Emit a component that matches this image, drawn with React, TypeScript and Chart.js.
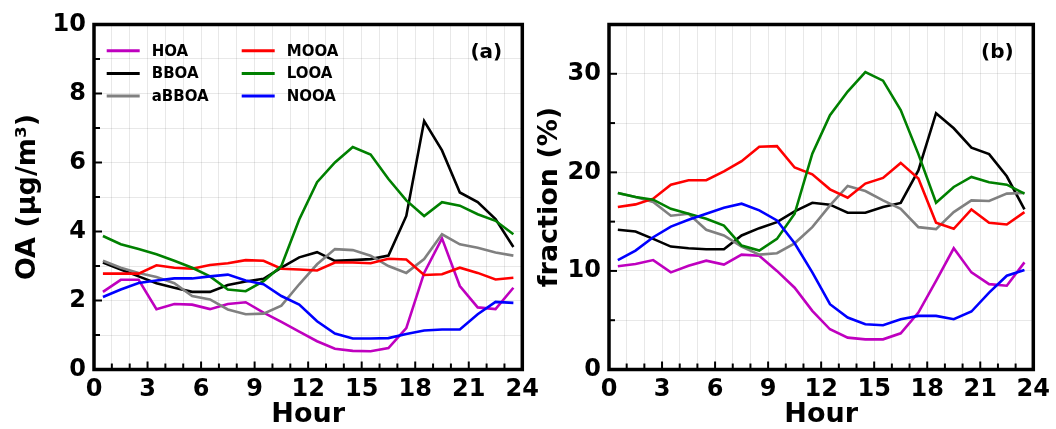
import React, { useEffect, useRef } from "react";
import { Chart, registerables } from "chart.js";

Chart.register(...registerables);

// Hour of day (bin centres)
const hours = [0.5, 1.5, 2.5, 3.5, 4.5, 5.5, 6.5, 7.5, 8.5, 9.5, 10.5, 11.5, 12.5, 13.5, 14.5, 15.5, 16.5, 17.5, 18.5, 19.5, 20.5, 21.5, 22.5, 23.5];

const factorNames = ["HOA", "BBOA", "aBBOA", "MOOA", "LOOA", "NOOA"];
const factorColors = ["#bf00bf", "#000000", "#808080", "#ff0000", "#008000", "#0000ff"];

// (a) mass concentrations, µg/m³
const hoaMass = [2.25, 2.6, 2.6, 1.75, 1.9, 1.88, 1.75, 1.9, 1.95, 1.65, 1.38, 1.1, 0.82, 0.6, 0.54, 0.53, 0.62, 1.2, 2.8, 3.8, 2.42, 1.8, 1.75, 2.37];
const bboaMass = [3.1, 2.9, 2.7, 2.5, 2.37, 2.25, 2.25, 2.45, 2.55, 2.63, 2.95, 3.25, 3.4, 3.15, 3.17, 3.2, 3.3, 4.45, 7.2, 6.35, 5.13, 4.85, 4.36, 3.55];
const abboaMass = [3.15, 2.95, 2.8, 2.68, 2.5, 2.13, 2.03, 1.74, 1.6, 1.62, 1.85, 2.47, 3.05, 3.49, 3.46, 3.3, 3.0, 2.8, 3.2, 3.92, 3.63, 3.53, 3.39, 3.3];
const mooaMass = [2.78, 2.78, 2.78, 3.02, 2.95, 2.92, 3.03, 3.08, 3.17, 3.15, 2.92, 2.9, 2.87, 3.1, 3.1, 3.08, 3.21, 3.19, 2.74, 2.76, 2.95, 2.8, 2.61, 2.66];
const looaMass = [3.87, 3.63, 3.49, 3.34, 3.15, 2.95, 2.7, 2.32, 2.27, 2.56, 3.0, 4.35, 5.43, 6.0, 6.45, 6.23, 5.52, 4.9, 4.45, 4.85, 4.75, 4.5, 4.31, 3.92];
const nooaMass = [2.1, 2.32, 2.51, 2.58, 2.64, 2.64, 2.7, 2.75, 2.58, 2.47, 2.13, 1.88, 1.4, 1.04, 0.9, 0.9, 0.91, 1.03, 1.13, 1.16, 1.16, 1.6, 1.96, 1.93];

// (b) fractions of total OA, %
const hoaFrac = [10.47, 10.7, 11.1, 9.85, 10.53, 11.04, 10.64, 11.65, 11.55, 10.0, 8.3, 5.95, 4.08, 3.23, 3.06, 3.06, 3.67, 5.78, 9.0, 12.3, 9.85, 8.66, 8.5, 10.87];
const bboaFrac = [14.17, 14.0, 13.25, 12.47, 12.3, 12.2, 12.2, 13.6, 14.34, 14.95, 16.04, 16.92, 16.72, 15.9, 15.9, 16.48, 16.9, 20.2, 26.0, 24.47, 22.5, 21.85, 19.6, 16.24];
const abboaFrac = [17.9, 17.5, 17.0, 15.6, 15.8, 14.17, 13.6, 12.47, 11.65, 11.8, 12.8, 14.44, 16.65, 18.62, 18.1, 17.16, 16.3, 14.44, 14.24, 15.97, 17.16, 17.1, 17.84, 17.9];
const mooaFrac = [16.48, 16.75, 17.33, 18.75, 19.2, 19.2, 20.1, 21.13, 22.6, 22.66, 20.49, 19.8, 18.28, 17.43, 18.86, 19.44, 20.96, 19.37, 14.88, 14.27, 16.24, 14.88, 14.71, 15.97];
const looaFrac = [17.9, 17.5, 17.23, 16.3, 15.8, 15.3, 14.6, 12.57, 12.06, 13.25, 15.8, 21.9, 25.8, 28.2, 30.17, 29.3, 26.33, 21.85, 16.92, 18.52, 19.54, 19.0, 18.75, 17.84];
const nooaFrac = [11.1, 12.06, 13.42, 14.5, 15.19, 15.8, 16.41, 16.82, 16.14, 15.12, 12.8, 9.85, 6.62, 5.27, 4.59, 4.49, 5.1, 5.44, 5.44, 5.1, 5.88, 7.8, 9.51, 10.09];

const FONT = "'DejaVu Sans', 'Liberation Sans', sans-serif";

type PanelSpec = {
  series: number[][];
  yMax: number;
  yStep: number;
  yLabelEvery: number;
  yTitle: string;
  tag: string;
  legend: boolean;
  width: number;
  axisWidth: number;
  rightPad: number;
  titleOffset: number;
};

// Frame, inward ticks, panel tag and the two-column legend
const decorPlugin = {
  id: "decor",
  afterDraw(chart: any, _args: any, opts: any) {
    const { ctx, chartArea: a, scales } = chart;
    const xs = scales.x;
    const ys = scales.y;
    ctx.save();
    ctx.strokeStyle = "#000";
    ctx.lineWidth = 2;
    ctx.lineCap = "butt";
    xs.ticks.forEach((t: any) => {
      const px = xs.getPixelForValue(t.value);
      const major = t.value % 3 === 0;
      ctx.beginPath();
      ctx.moveTo(px, a.bottom);
      ctx.lineTo(px, a.bottom - (major ? 8 : 6));
      ctx.stroke();
    });
    ys.ticks.forEach((t: any) => {
      const py = ys.getPixelForValue(t.value);
      const major = t.value % opts.yLabelEvery === 0;
      ctx.beginPath();
      ctx.moveTo(a.left, py);
      ctx.lineTo(a.left + (major ? 8 : 6), py);
      ctx.stroke();
    });
    ctx.lineWidth = 3.5;
    ctx.strokeRect(a.left, a.top, a.right - a.left, a.bottom - a.top);

    ctx.fillStyle = "#000";
    ctx.font = `bold 20px ${FONT}`;
    ctx.textAlign = "center";
    ctx.textBaseline = "middle";
    ctx.fillText(opts.tag, a.right - 36, a.top + 28);

    if (opts.legend) {
      const ds = chart.data.datasets;
      ctx.font = `bold 15px ${FONT}`;
      ctx.textAlign = "left";
      ds.forEach((d: any, i: number) => {
        const col = Math.floor(i / 3);
        const row = i % 3;
        const x0 = a.left + 12.7 + col * 135;
        const y0 = a.top + 26.2 + row * 22.7;
        ctx.strokeStyle = d.borderColor;
        ctx.lineWidth = 3;
        ctx.beginPath();
        ctx.moveTo(x0, y0);
        ctx.lineTo(x0 + 33, y0);
        ctx.stroke();
        ctx.fillStyle = "#000";
        ctx.fillText(d.label, x0 + 45, y0 + 1);
      });
    }
    ctx.restore();
  },
};

function Panel({ spec, left }: { spec: PanelSpec; left: number }) {
  const ref = useRef<HTMLCanvasElement | null>(null);

  useEffect(() => {
    if (!ref.current) return;
    const tickFont = { family: FONT, size: 24, weight: "bold" as const };
    const titleFont = { family: FONT, size: 27, weight: "bold" as const, lineHeight: 1 };
    const gridColor = "rgba(0,0,0,0.09)";

    const chart = new Chart(ref.current, {
      type: "line",
      data: {
        datasets: spec.series.map((vals, i) => ({
          label: factorNames[i],
          data: hours.map((h, j) => ({ x: h, y: vals[j] })),
          borderColor: factorColors[i],
          backgroundColor: factorColors[i],
          borderWidth: 2.6,
          pointRadius: 0,
          tension: 0,
          fill: false,
          order: factorNames.length - 1 - i,
        })),
      },
      options: {
        animation: false,
        responsive: false,
        devicePixelRatio: 1,
        layout: { padding: { left: 0, top: 24.5, right: spec.rightPad, bottom: 0 } },
        plugins: {
          legend: { display: false },
          tooltip: { enabled: false },
          decor: { tag: spec.tag, legend: spec.legend, yLabelEvery: spec.yLabelEvery },
        } as any,
        scales: {
          x: {
            type: "linear",
            min: 0,
            max: 24,
            border: { display: false },
            grid: { color: gridColor, lineWidth: 1, drawTicks: false, tickLength: 0 },
            ticks: {
              stepSize: 1,
              autoSkip: false,
              maxRotation: 0,
              padding: 6,
              color: "#000",
              font: tickFont,
              callback: (v: any) => (Number(v) % 3 === 0 ? String(v) : ""),
            },
            title: { display: true, text: "Hour", color: "#000", font: titleFont, padding: { top: 0, bottom: 0.5 } },
            afterFit: (s: any) => {
              s.height = 59.5;
            },
          },
          y: {
            type: "linear",
            min: 0,
            max: spec.yMax,
            border: { display: false },
            grid: { color: gridColor, lineWidth: 1, drawTicks: false, tickLength: 0 },
            ticks: {
              stepSize: spec.yStep,
              autoSkip: false,
              padding: 8,
              color: "#000",
              font: tickFont,
              callback: (v: any) => (Number(v) % spec.yLabelEvery === 0 ? String(v) : ""),
            },
            title: { display: true, text: spec.yTitle, color: "#000", font: titleFont, padding: { top: spec.titleOffset, bottom: 0 } },
            afterFit: (s: any) => {
              s.width = spec.axisWidth;
            },
          },
        },
      } as any,
      plugins: [decorPlugin],
    });
    return () => chart.destroy();
  }, [spec]);

  return (
    <canvas
      ref={ref}
      width={spec.width}
      height={429}
      style={{ position: "absolute", left, top: 0, width: spec.width, height: 429 }}
    />
  );
}

const massPanel: PanelSpec = {
  series: [hoaMass, bboaMass, abboaMass, mooaMass, looaMass, nooaMass],
  yMax: 10,
  yStep: 1,
  yLabelEvery: 2,
  yTitle: "OA (μg/m³)",
  tag: "(a)",
  legend: true,
  width: 545,
  axisWidth: 94,
  rightPad: 22.5,
  titleOffset: 14,
};

const fracPanel: PanelSpec = {
  series: [hoaFrac, bboaFrac, abboaFrac, mooaFrac, looaFrac, nooaFrac],
  yMax: 35,
  yStep: 5,
  yLabelEvery: 10,
  yTitle: "fraction (%)",
  tag: "(b)",
  legend: false,
  width: 530,
  axisWidth: 83,
  rightPad: 17,
  titleOffset: 10,
};

export default function App() {
  return (
    <div style={{ position: "fixed", left: 0, top: 0, width: 1056, height: 429, background: "#fff", overflow: "hidden" }}>
      <Panel spec={massPanel} left={0} />
      <Panel spec={fracPanel} left={526} />
    </div>
  );
}
